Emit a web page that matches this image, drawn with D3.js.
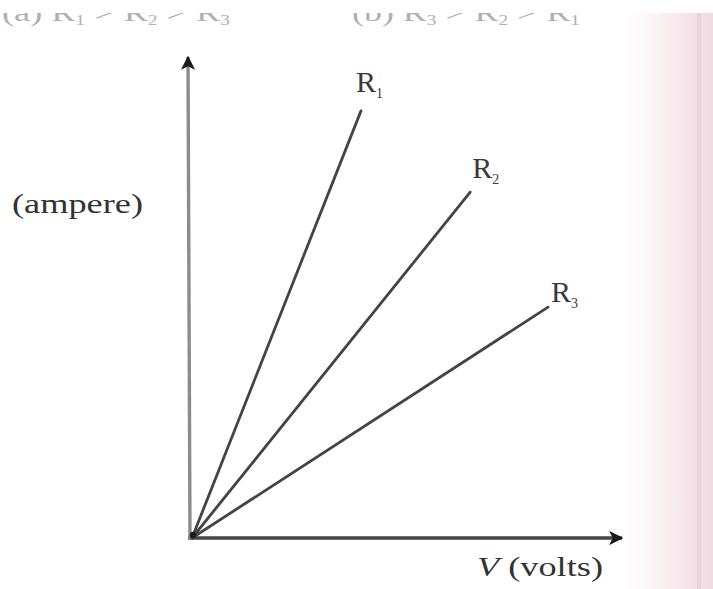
<!DOCTYPE html>
<html>
<head>
<meta charset="utf-8">
<script src="https://cdn.jsdelivr.net/npm/d3@7"></script>
<style>
  html, body { margin: 0; padding: 0; background: #fff; }
  svg { display: block; }
  text { font-family: "Liberation Serif", "Times New Roman", serif; }
</style>
</head>
<body>
<svg id="chart" width="713" height="589"></svg>
<script>
// Resistor series: end point of each I–V line (volts, amperes)
const series = ["1", "2", "3"];
const endVolts = [3.93, 6.47, 8.28];
const endAmps = [8.88, 7.19, 4.80];

// Answer options printed above the figure (only their lower edge shows)
const optionLabels = ["(a)", "(b)"];
const optionOrders = [["1", "2", "3"], ["3", "2", "1"]];

const W = 713, H = 589;
const svg = d3.select("#chart");
const defs = svg.append("defs");

// page-edge tint on the right
const grad = defs.append("linearGradient").attr("id", "edge")
  .attr("x1", 0).attr("x2", 1).attr("y1", 0).attr("y2", 0);
grad.append("stop").attr("offset", "0%").attr("stop-color", "#ffffff");
grad.append("stop").attr("offset", "40%").attr("stop-color", "#faf1f3");
grad.append("stop").attr("offset", "80%").attr("stop-color", "#f3dfe5");
grad.append("stop").attr("offset", "100%").attr("stop-color", "#f1dbe2");
svg.append("rect").attr("x", 625).attr("y", 13).attr("width", W - 625).attr("height", H - 13)
  .attr("fill", "url(#edge)");
svg.append("rect").attr("x", 697).attr("y", 13).attr("width", 4).attr("height", H - 13)
  .attr("fill", "#d9c9ce").attr("opacity", 0.5);

// clip for the option line cut at the top edge
defs.append("clipPath").attr("id", "topcut")
  .append("rect").attr("x", 0).attr("y", 13).attr("width", W).attr("height", 20);

const opts = svg.append("g").attr("clip-path", "url(#topcut)");
optionLabels.forEach((lab, i) => {
  const t = opts.append("text")
    .attr("x", i === 0 ? 2 : 352)
    .attr("y", 21)
    .attr("font-size", 26)
    .attr("fill", "#b0b0b0")
    .attr("textLength", 228)
    .attr("lengthAdjust", "spacingAndGlyphs");
  t.append("tspan").text(lab + "  ");
  optionOrders[i].forEach((k, j) => {
    t.append("tspan").text("R");
    t.append("tspan").attr("dy", 4).attr("font-size", 14).text(k);
    t.append("tspan").attr("dy", -4).text(j < 2 ? " > " : "");
  });
});

// scales
const x = d3.scaleLinear().domain([0, 10]).range([192, 622]);
const y = d3.scaleLinear().domain([0, 10]).range([538, 57]);

const ink = "#444";

// arrowheads
defs.append("marker").attr("id", "arrow")
  .attr("viewBox", "0 0 10 10").attr("refX", 9).attr("refY", 5)
  .attr("markerWidth", 4.2).attr("markerHeight", 4.2)
  .attr("markerUnits", "strokeWidth").attr("orient", "auto")
  .append("path").attr("d", "M0,0 L10,5 L0,10 L2.5,5 Z").attr("fill", "#1e1a1c");

svg.append("line")
  .attr("x1", x(0) - 4).attr("y1", y(0))
  .attr("x2", x(10)).attr("y2", y(0))
  .attr("stroke", "#4a4547").attr("stroke-width", 3.4)
  .attr("marker-end", "url(#arrow)");

svg.append("line")
  .attr("x1", x(0) - 2).attr("y1", y(0) + 2)
  .attr("x2", x(0) - 4).attr("y2", y(10))
  .attr("stroke", "#8c8c8c").attr("stroke-width", 3.4)
  .attr("marker-end", "url(#arrow)");

// I–V lines
const rows = series.map((s, i) => ({ s, v: endVolts[i], a: endAmps[i] }));
const line = d3.line().x(d => x(d[0])).y(d => y(d[1]));
svg.selectAll("path.iv").data(rows).join("path")
  .attr("class", "iv")
  .attr("d", d => line([[0, 0], [d.v, d.a]]))
  .attr("fill", "none")
  .attr("stroke", ink)
  .attr("stroke-width", 2.8)
  .attr("stroke-linecap", "round");

// small dark dot where the lines meet
svg.append("circle").attr("cx", x(0) + 1).attr("cy", y(0) - 3).attr("r", 3.2).attr("fill", "#1e1e1e");

// line labels
const labelShift = [[-5, -19], [2, -14], [3, -5]];
const lbl = svg.selectAll("text.rl").data(rows).join("text")
  .attr("class", "rl")
  .attr("x", (d, i) => x(d.v) + labelShift[i][0])
  .attr("y", (d, i) => y(d.a) + labelShift[i][1])
  .attr("font-size", 30)
  .attr("fill", "#3a3a3a");
lbl.append("tspan").text("R");
lbl.append("tspan").attr("dy", 6).attr("font-size", 14).text(d => d.s);

// axis titles
svg.append("text")
  .attr("x", 12).attr("y", 213)
  .attr("font-size", 27).attr("fill", "#333")
  .attr("textLength", 131).attr("lengthAdjust", "spacingAndGlyphs")
  .text("(ampere)");

const vt = svg.append("text")
  .attr("x", 477).attr("y", 576)
  .attr("font-size", 27).attr("fill", "#333")
  .attr("textLength", 126).attr("lengthAdjust", "spacingAndGlyphs");
vt.append("tspan").attr("font-style", "italic").text("V");
vt.append("tspan").text(" (volts)");
</script>
</body>
</html>
